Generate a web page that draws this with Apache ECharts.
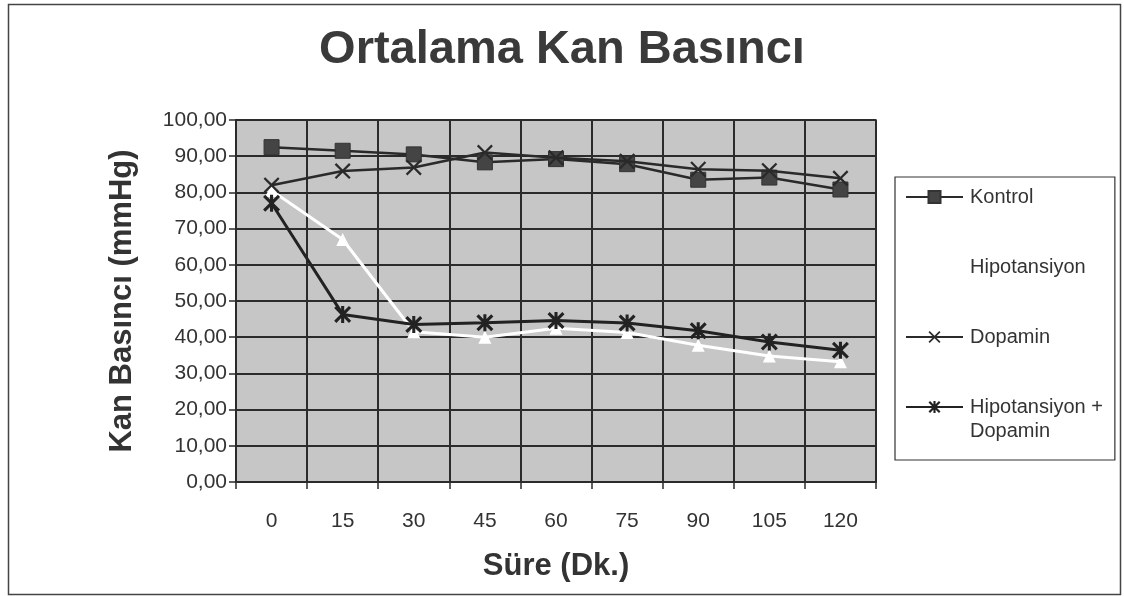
<!DOCTYPE html>
<html>
<head>
<meta charset="utf-8">
<script src="https://cdn.jsdelivr.net/npm/echarts@6/dist/echarts.min.js"></script>
<style>
html,body{margin:0;padding:0;background:#fff;}
#c{width:1124px;height:596px;}
</style>
</head>
<body>
<div id="c"></div>
<script>
const categories = ['0','15','30','45','60','75','90','105','120'];
const kontrol = [92.5, 91.5, 90.5, 88.3, 89.2, 87.8, 83.5, 84.1, 80.8];
const hipotansiyon = [80.5, 67.0, 41.5, 40.0, 42.5, 41.3, 37.8, 34.8, 33.2];
const dopamin = [82.0, 85.9, 86.9, 91.0, 89.6, 88.6, 86.4, 86.0, 83.9];
const hipDopamin = [77.0, 46.3, 43.5, 44.0, 44.6, 43.9, 41.8, 38.7, 36.4];
const seriesNames = ['Kontrol', 'Hipotansiyon', 'Dopamin', 'Hipotansiyon + Dopamin'];

const FONT = '"Liberation Sans", Arial, sans-serif';
const XPATH = 'path://M0,1 L1,0 L5,4 L9,0 L10,1 L6,5 L10,9 L9,10 L5,6 L1,10 L0,9 L4,5 Z';
const STARPATH = 'path://M0,1.3 L1.3,0 L5,3.7 L8.7,0 L10,1.3 L6.3,5 L10,8.7 L8.7,10 L5,6.3 L1.3,10 L0,8.7 L3.7,5 Z M4.1,0 L5.9,0 L5.9,10 L4.1,10 Z';

const chart = echarts.init(document.getElementById('c'), null, {renderer: 'canvas'});
const dark = '#2b2b2b';

chart.setOption({
  animation: false,
  backgroundColor: '#ffffff',
  textStyle: {fontFamily: FONT},
  title: {
    text: 'Ortalama Kan Basıncı',
    left: 'center',
    top: 22,
    textStyle: {fontFamily: FONT, fontSize: 47, fontWeight: 'bold', color: '#3a3a3a'}
  },
  grid: {
    left: 236, right: 1124 - 876, top: 120, bottom: 596 - 482,
    show: true, backgroundColor: '#c6c6c6', borderColor: dark, borderWidth: 1.5
  },
  legend: {
    orient: 'vertical',
    left: 895, top: 177,
    padding: [8, 12, 41, 10],
    itemGap: 46,
    itemWidth: 57, itemHeight: 15,
    borderColor: '#333', borderWidth: 1.2,
    backgroundColor: '#fff',
    data: seriesNames,
    formatter: function (n) { return n === 'Hipotansiyon + Dopamin' ? 'Hipotansiyon +' : n; },
    textStyle: {fontFamily: FONT, fontSize: 20, color: '#333', lineHeight: 24, padding: [0,0,0,2]}
  },
  xAxis: {
    type: 'category',
    data: categories,
    boundaryGap: true,
    name: 'Süre (Dk.)',
    nameLocation: 'middle',
    nameGap: 69,
    nameTextStyle: {fontFamily: FONT, fontSize: 31, fontWeight: 'bold', color: '#333'},
    axisLine: {lineStyle: {color: dark, width: 2}},
    axisTick: {show: true, length: 7, lineStyle: {color: dark, width: 1.5}},
    axisLabel: {fontFamily: FONT, fontSize: 21, color: '#333', margin: 29},
    splitLine: {show: true, lineStyle: {color: dark, width: 2}}
  },
  yAxis: {
    type: 'value',
    min: 0, max: 100, interval: 10,
    name: 'Kan Basıncı (mmHg)',
    nameLocation: 'middle',
    nameGap: 98,
    nameTextStyle: {fontFamily: FONT, fontSize: 31, fontWeight: 'bold', color: '#333'},
    axisLine: {show: true, lineStyle: {color: dark, width: 2}},
    axisTick: {show: true, length: 7, lineStyle: {color: dark, width: 1.5}},
    axisLabel: {fontFamily: FONT, fontSize: 21, color: '#333', margin: 9,
      formatter: function (v) { return v.toFixed(2).replace('.', ','); }},
    splitLine: {show: true, lineStyle: {color: dark, width: 2}}
  },
  series: [
    {name: seriesNames[0], type: 'line', data: kontrol, symbol: 'rect', symbolSize: 15,
      lineStyle: {color: '#2a2a2a', width: 2.5}, itemStyle: {color: '#444', borderColor: '#333', borderWidth: 1}, z: 3},
    {name: seriesNames[1], type: 'line', data: hipotansiyon, symbol: 'triangle', symbolSize: 13,
      lineStyle: {color: '#ffffff', width: 3}, itemStyle: {color: '#ffffff'}, z: 2},
    {name: seriesNames[2], type: 'line', data: dopamin, symbol: XPATH, symbolSize: 16,
      lineStyle: {color: '#2a2a2a', width: 2.5}, itemStyle: {color: '#2a2a2a'}, z: 4},
    {name: seriesNames[3], type: 'line', data: hipDopamin, symbol: STARPATH, symbolSize: 17,
      lineStyle: {color: '#222', width: 3}, itemStyle: {color: '#222'}, z: 5}
  ],
  graphic: [
    {type: 'rect', left: 6, top: 2, shape: {width: 1112, height: 590},
      style: {fill: 'none', stroke: '#444', lineWidth: 1.5}, silent: true, z: -1},
    {type: 'text', left: 970, top: 421,
      style: {text: 'Dopamin', font: '20px "Liberation Sans", Arial, sans-serif', fill: '#333'}, z: 10}
  ]
});
</script>
</body>
</html>
